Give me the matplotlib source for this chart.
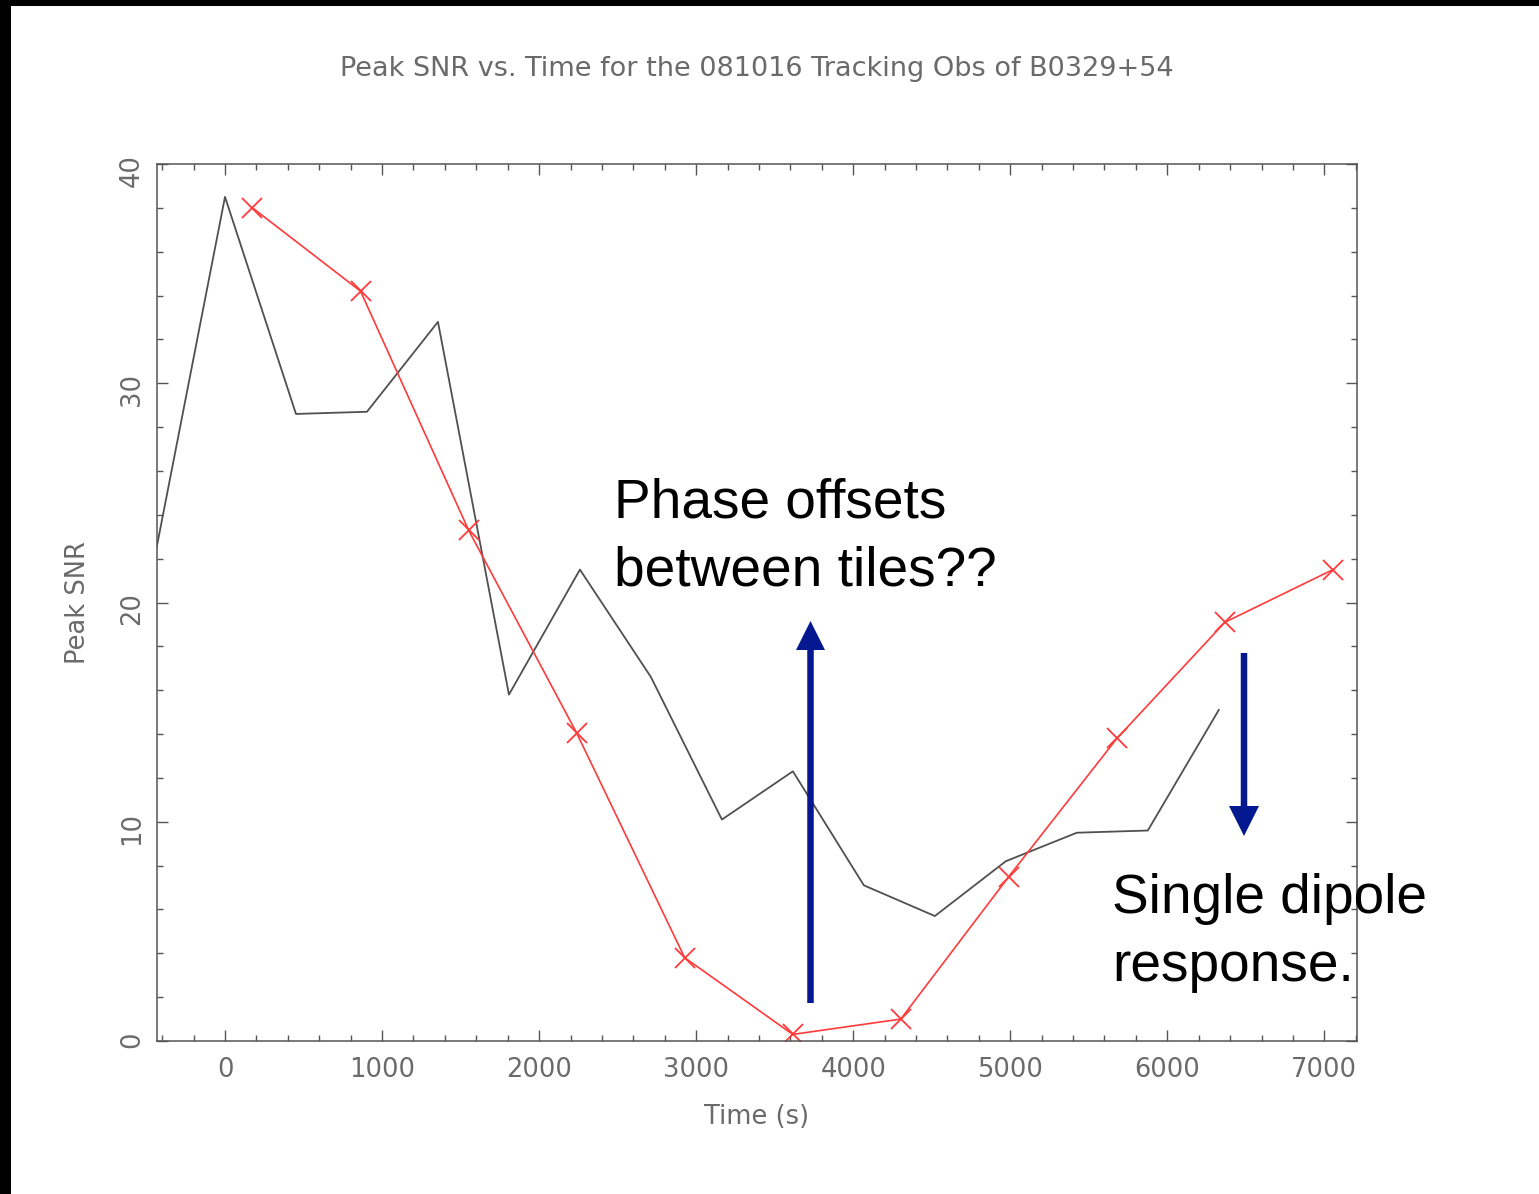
import matplotlib
matplotlib.use("Agg")
import matplotlib.pyplot as plt
from matplotlib.patches import FancyArrow, Rectangle
from matplotlib.ticker import MultipleLocator

# single dipole response (grey line)
t_dipole = [-452, 0, 452, 904, 1356, 1808, 2260, 2712, 3164, 3616,
            4068, 4520, 4972, 5424, 5876, 6328]
snr_dipole = [21.9, 38.5, 28.6, 28.7, 32.8, 15.8, 21.5, 16.6, 10.1, 12.3,
              7.1, 5.7, 8.2, 9.5, 9.6, 15.1]

# tile beam (red line with crosses)
t_tiles = [175, 863, 1551, 2239, 2927, 3615, 4303, 4991, 5679, 6367, 7055]
snr_tiles = [38.0, 34.2, 23.3, 14.05, 3.8, 0.3, 1.0, 7.5, 13.8, 19.1, 21.5]

title = "Peak SNR vs. Time for the 081016 Tracking Obs of B0329+54"
note_up = "Phase offsets\nbetween tiles??"
note_down = "Single dipole\nresponse."

W, H = 1539, 1194
fig = plt.figure(figsize=(W / 100, H / 100), dpi=100)
fig.patch.set_facecolor("white")

ax = fig.add_axes([157 / W, 1 - 1041 / H, 1200 / W, 877 / H])
ax.plot(t_dipole, snr_dipole, color="#505050", lw=1.3)
ax.plot(t_tiles, snr_tiles, color="#ff3a3a", lw=1.2, marker="x",
        markersize=14, markeredgewidth=1.3)

ax.set_xlim(-433, 7208)
ax.set_ylim(0, 40)
ax.xaxis.set_major_locator(MultipleLocator(1000))
ax.xaxis.set_minor_locator(MultipleLocator(200))
ax.yaxis.set_major_locator(MultipleLocator(10))
ax.yaxis.set_minor_locator(MultipleLocator(2))

grey = "#6a6a6a"
for sp in ax.spines.values():
    sp.set_color("#555555")
    sp.set_linewidth(1.1)
ax.tick_params(which="both", direction="in", top=True, right=True,
               color="#555555", labelcolor=grey, labelsize=18.5)
ax.tick_params(which="major", length=8, width=1.0)
ax.tick_params(which="minor", length=4.5, width=1.0)
ax.tick_params(axis="x", pad=11.5)
ax.tick_params(axis="y", labelrotation=90, pad=8.5)

ax.set_xlabel("Time (s)", fontsize=18.5, color=grey, labelpad=15)
ax.set_ylabel("Peak SNR", fontsize=18.5, color=grey, labelpad=20)
fig.text(757 / W, 1 - 69 / H, title, ha="center", va="center",
         fontsize=19.5, color=grey)

# overlay in pixel coordinates for the slide decorations
ov = fig.add_axes([0, 0, 1, 1])
ov.set_xlim(0, W)
ov.set_ylim(H, 0)
ov.axis("off")

ov.add_patch(Rectangle((0, 0), 11, H, color="black", lw=0))
ov.add_patch(Rectangle((0, 0), W, 6, color="black", lw=0))

navy = "#04188f"
ov.add_patch(FancyArrow(810.5, 1003, 0, 621 - 1003, width=6.5, head_width=29,
                        head_length=29, length_includes_head=True,
                        color=navy, lw=0))
ov.add_patch(FancyArrow(1244, 653, 0, 836 - 653, width=6.5, head_width=30,
                        head_length=30, length_includes_head=True,
                        color=navy, lw=0))

ov.text(614, 477, note_up, ha="left", va="top", fontsize=39.6,
        family="Liberation Sans", color="black", linespacing=1.4)
ov.text(1112, 873, note_down, ha="left", va="top", fontsize=39.6,
        family="Liberation Sans", color="black", linespacing=1.4)

fig.savefig("out.png", dpi=100)
